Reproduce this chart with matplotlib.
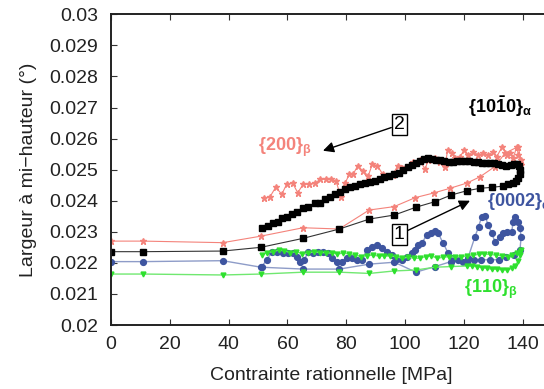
import matplotlib.pyplot as plt

plt.rcParams['font.family'] = ['Liberation Sans', 'DejaVu Sans']
plt.rcParams['mathtext.fontset'] = 'custom'
plt.rcParams['mathtext.rm'] = 'Liberation Sans'
plt.rcParams['mathtext.bf'] = 'Liberation Sans:bold'
plt.rcParams['mathtext.it'] = 'Liberation Sans:italic'

# {200} beta (loading then unloading)
red_x = [0, 11, 38, 51, 65.3, 77.6, 87.8, 96.3, 103.5, 109.8, 115.3, 121.1, 125.5, 130.6, 134, 138.5,
         139.5, 139.3, 138.6, 138, 136.8, 135.7, 134.6, 133.1, 131.2, 130, 128.3, 126.6, 124.9, 123.2,
         121.5, 120.2, 118.7, 117, 115.9, 114.5, 113.6, 111.9, 110.2, 107.9, 106.8, 105.1, 102.8,
         100.8, 98.9, 97.5, 95.8, 94.1, 92.4, 90.6, 88.9, 87.5, 85.6, 83.9, 82.4, 81.1, 79.6, 78.2,
         76.5, 74.8, 73.0, 71.1, 69.4, 67.5, 65.4, 63.5, 61.8, 59.8, 58.1, 56.0, 54.1, 52.1]
red_y = [0.0227, 0.0227, 0.02265, 0.02286, 0.02313, 0.02309, 0.0237, 0.02381, 0.0241, 0.02425, 0.0244,
         0.02457, 0.02477, 0.0251, 0.02553, 0.02574,
         0.0253, 0.02515, 0.02547, 0.02574, 0.02537, 0.02553, 0.02547, 0.02574, 0.02542, 0.02558,
         0.02547, 0.02553, 0.02547, 0.02558, 0.02547, 0.02563, 0.02542, 0.02537, 0.02553, 0.02563,
         0.0251, 0.02526, 0.02537, 0.02531, 0.02501, 0.02531, 0.02526, 0.0251, 0.02504, 0.02512,
         0.02483, 0.0248, 0.02486, 0.02512, 0.02518, 0.0248, 0.02497, 0.02512, 0.02486, 0.02486,
         0.02456, 0.02413, 0.02464, 0.02469, 0.02469, 0.02469, 0.02456, 0.02453, 0.02453, 0.02426,
         0.02456, 0.02454, 0.02421, 0.02443, 0.02413, 0.02408]

# {10-10} alpha
blk_x = [0, 11, 38, 51, 65.4, 77.7, 87.9, 96.4, 103.7, 110.2, 115.6, 121, 125.5, 129.5, 133.3,
         135.1, 136.8, 137.8, 138.6, 139.1, 139.2, 138.8, 138, 137.2, 136, 134.5, 133, 131.7, 130.4,
         129, 127.6, 126.1, 124.7, 123.3, 121.9, 120.5, 119.1, 117.7, 116.2, 114.8, 113.4, 112,
         110.6, 109.2, 107.9, 106.5, 105.1, 103.8, 102.4, 101, 99.4, 98, 96.4, 94.7, 93, 91.5,
         89.8, 88.1, 86.4, 84.7, 83, 81.3, 79.6, 77.9, 76.2, 74.5, 72.8, 71.1, 69.4, 67.1, 65.4,
         63.2, 61.5, 59.8, 58.1, 56.7, 55.2, 53.5, 51.5]
blk_y = [0.02236, 0.02236, 0.02238, 0.0225, 0.02279, 0.02309, 0.02341, 0.02354, 0.02379, 0.02397,
         0.02418, 0.02432, 0.0244, 0.02443, 0.02447,
         0.02453, 0.02456, 0.02462, 0.02472, 0.02486, 0.025, 0.02511, 0.02519, 0.02517, 0.02514,
         0.02512, 0.02516, 0.02519, 0.0252, 0.02521, 0.02522, 0.02522, 0.02524, 0.02526, 0.02528,
         0.02529, 0.02529, 0.02528, 0.02526, 0.02526, 0.02528, 0.02531, 0.02531, 0.02534, 0.02537,
         0.02533, 0.02527, 0.0252, 0.02514, 0.02508, 0.02499, 0.0249, 0.02486, 0.02481, 0.02477,
         0.0247, 0.02464, 0.02461, 0.02456, 0.02453, 0.02447, 0.02443, 0.02437, 0.02429, 0.02422,
         0.02413, 0.02405, 0.02394, 0.02392, 0.02381, 0.02376, 0.02365, 0.02357, 0.02349, 0.02343,
         0.02332, 0.02327, 0.02319, 0.02311]

# {0002} alpha
blu_x = [0, 11, 38, 51, 65.4, 77.7, 87.9, 96.4, 103.7, 110.2, 115.6, 121,
         123.8, 125, 126.1, 127.2, 128.3, 129.5, 130.6, 132.3, 133.4, 134.6, 136.3, 136.8, 137.4,
         138.5, 139.1, 139.5, 139.1, 137, 134.5, 132, 129, 126, 123.5, 121.5, 119.8, 118.1, 116.4,
         114.7, 113, 111.3, 110.2, 108.8, 107.4, 105.7, 104.5, 103.4, 102.3, 100.6, 98.9, 97.2,
         95.5, 93.8, 92.1, 90.4, 88.7, 87, 85.3, 83.6, 81.9, 80.2, 78.5, 76.8, 75.3, 73.7, 72.2,
         70.5, 68.8, 67.1, 65.7, 64.3, 63.2, 62, 60.3, 58.6, 56.4, 54.7, 53, 51.2]
blu_y = [0.02204, 0.02204, 0.02207, 0.02186, 0.0218, 0.0218, 0.02196, 0.02202, 0.0217, 0.02188,
         0.02204, 0.02204,
         0.02284, 0.02316, 0.02349, 0.02351, 0.02322, 0.02295, 0.02268, 0.02284, 0.02295, 0.023,
         0.023, 0.02333, 0.02349, 0.02333, 0.02311, 0.02284, 0.02241, 0.02225, 0.0222, 0.0221,
         0.0221, 0.0221, 0.0221, 0.02215, 0.02204, 0.02209, 0.02215, 0.02231, 0.02263, 0.02295,
         0.02303, 0.02295, 0.0229, 0.02263, 0.02258, 0.02241, 0.02231, 0.0222, 0.02209, 0.02212,
         0.02225, 0.02236, 0.02247, 0.02258, 0.02252, 0.02241, 0.02209, 0.02209, 0.02215, 0.02215,
         0.02204, 0.02204, 0.02215, 0.02231, 0.02236, 0.02236, 0.02231, 0.02236, 0.02209, 0.02204,
         0.0222, 0.02231, 0.02231, 0.02231, 0.02236, 0.02236, 0.02209, 0.02188]

# {110} beta
grn_x = [0, 11, 38, 51, 65.4, 77.7, 87.9, 96.4, 103.7, 110.2, 115.6, 121,
         122.7, 124.4, 126.1, 127.8, 129.5, 131.2, 132.9, 134.6, 136.3, 137.4, 138.5, 139.1,
         139.5, 139, 138, 136.5, 135, 133, 131, 129, 127, 125, 123, 121, 119, 117, 115, 113, 111,
         109, 107, 105, 103, 101, 99, 97, 95, 93, 91, 89, 87, 85, 83, 81, 79, 77, 75, 73, 71, 69,
         67, 65, 63, 61, 59, 57, 55, 53, 51.5]
grn_y = [0.02164, 0.02164, 0.02161, 0.02164, 0.0217, 0.0217, 0.02166, 0.02174, 0.02177, 0.02186,
         0.02188, 0.0219,
         0.02189, 0.02188, 0.02185, 0.02182, 0.0218, 0.02179, 0.02178, 0.02177, 0.02182, 0.0219,
         0.02206, 0.02225,
         0.02241, 0.02236, 0.02231, 0.02225, 0.0222, 0.02223, 0.02225, 0.02227, 0.02229, 0.02227,
         0.02225, 0.02222, 0.0222, 0.02218, 0.0222, 0.02218, 0.02215, 0.02222, 0.0222, 0.02215,
         0.02215, 0.02218, 0.02215, 0.0222, 0.02222, 0.02222, 0.02222, 0.02225, 0.02223, 0.0222,
         0.02225, 0.02229, 0.02231, 0.02229, 0.02231, 0.02233, 0.02233, 0.02236, 0.02231, 0.02229,
         0.02236, 0.02233, 0.02239, 0.02241, 0.02236, 0.02233, 0.02225]

yticks = [0.02, 0.021, 0.022, 0.023, 0.024, 0.025, 0.026, 0.027, 0.028, 0.029, 0.03]
ylabels = ['0.02', '0.021', '0.022', '0.023', '0.024', '0.025', '0.026', '0.027', '0.028', '0.029', '0.03']
xticks = [0, 20, 40, 60, 80, 100, 120, 140]

c_red = '#f4837b'
c_blu = '#3e55a0'
c_grn = '#2ee02e'

fig = plt.figure(figsize=(5.44, 3.89), dpi=100)
ax = fig.add_axes([111/544, 64/389, 441/544, 310.7/389])

ax.plot(red_x, red_y, '-', color=c_red, lw=0.8, marker='*', ms=4.5, mfc=c_red, mec=c_red)
ax.plot(blu_x, blu_y, '-', color='#8e9cc8', lw=1.0, marker='o', ms=4.2, mfc=c_blu, mec=c_blu)
ax.plot(grn_x, grn_y, '-', color='#70e870', lw=1.0, marker='v', ms=3.5, mfc=c_grn, mec=c_grn)
ax.plot(blk_x, blk_y, '-', color='#333333', lw=0.8, marker='s', ms=4.2, mfc='black', mec='black')

ax.set_xlim(0, 150)
ax.set_ylim(0.02, 0.03)
ax.set_xticks(xticks)
ax.set_yticks(yticks)
ax.set_yticklabels(ylabels)
ax.tick_params(direction='in', top=True, right=True, length=4, labelsize=14, color='#333333',
               labelcolor='#222222')
ax.tick_params(axis='y', pad=9)
ax.tick_params(axis='x', pad=8)
for s in ax.spines.values():
    s.set_linewidth(1.4)
    s.set_color('#222222')

ax.set_xlabel('Contrainte rationnelle [MPa]', fontsize=14, labelpad=10, color='#222222')
ax.set_ylabel('Largeur à mi\u2212hauteur (°)', fontsize=14, labelpad=9, color='#222222')

ax.text(59.2, 0.02573, r'$\mathbf{\{200\}}_{\mathbf{β}}$', color=c_red, fontsize=13, ha='center', va='center')
ax.text(132.3, 0.02702, r'$\mathbf{\{10\bar{1}0\}}_{\mathbf{α}}$', color='black', fontsize=13, ha='center', va='center')
ax.text(128.0, 0.02397, r'$\mathbf{\{0002\}}_{\mathbf{α}}$', color=c_blu, fontsize=13, ha='left', va='center')
ax.text(129.3, 0.02116, r'$\mathbf{\{110\}}_{\mathbf{β}}$', color=c_grn, fontsize=13, ha='center', va='center')

box = dict(boxstyle='square,pad=0.1', fc='white', ec='black', lw=1)
ax.annotate('2', xy=(72.1, 0.02561), xytext=(98, 0.02644), fontsize=14, ha='center', va='center',
            bbox=box, arrowprops=dict(arrowstyle='-|>', color='black', lw=1, mutation_scale=16,
                                      shrinkA=0, shrinkB=0))
ax.annotate('1', xy=(122.1, 0.024), xytext=(98, 0.02291), fontsize=14, ha='center', va='center',
            bbox=box, arrowprops=dict(arrowstyle='-|>', color='black', lw=1, mutation_scale=16,
                                      shrinkA=0, shrinkB=0))

plt.savefig('out.png', dpi=100)
